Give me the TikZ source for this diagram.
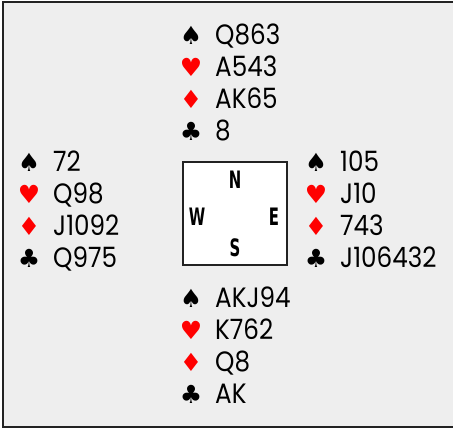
\documentclass[tikz,border=0pt]{standalone}
\usepackage{fontspec}
\usetikzlibrary{positioning}
\newfontfamily\cardfont[FakeStretch=0.88]{Poppins}
\newfontfamily\suitfont{DejaVu Sans}
\newfontfamily\compassfont[FakeStretch=0.62]{DejaVu Sans}
\definecolor{bdBack}{HTML}{EEEEEE}
\definecolor{bdRed}{HTML}{FF0000}
\definecolor{bdLine}{HTML}{222222}

\begin{document}
\begin{tikzpicture}[
  x=1pt, y=-1pt,
  suit/.style={font=\suitfont\fontsize{25}{25}\selectfont, inner sep=0pt},
  cards/.style={font=\cardfont\fontsize{28}{28}\selectfont, anchor=base west,
                inner sep=0pt},
  dir/.style={font=\compassfont\bfseries\fontsize{24}{24}\selectfont, inner sep=0pt},
  table/.style={draw=bdLine, fill=white, line width=1.2pt,
                minimum width=104pt, minimum height=103pt, inner sep=0pt}
]
  \useasboundingbox (0,0) rectangle (453,429);
  \draw[bdLine, fill=bdBack, line width=2pt] (3,2) rectangle (456,427);

  % hands: name / symbol x / first row y / cards
  \foreach \nm/\x/\y/\sa/\ha/\da/\ca in {
      N/191/35/Q863/A543/AK65/8,
      W/29/162/72/Q98/J1092/Q975,
      E/316/162/105/J10/743/J106432,
      S/191/298/AKJ94/K762/Q8/AK}{
    \foreach \sym/\col/\crd [count=\i from 0] in
        {♠/black/\sa, ♥/bdRed/\ha, ♦/bdRed/\da, ♣/black/\ca}{
      \node[suit, text=\col] (\nm s\i) at ({\x},{\y+32*\i}) {\sym};
      \node[cards] (\nm c\i) at ({\x+24},{\y+32*\i+9.5}) {\crd};
    }
  }

  \node[table] (box) at (235,213.5) {};
  \node[dir] (dN) at (235,180) {N};
  \node[dir] (dW) at (197,217) {W};
  \node[dir] (dE) at (274,217) {E};
  \node[dir] (dS) at (235,248) {S};
\end{tikzpicture}
\end{document}
